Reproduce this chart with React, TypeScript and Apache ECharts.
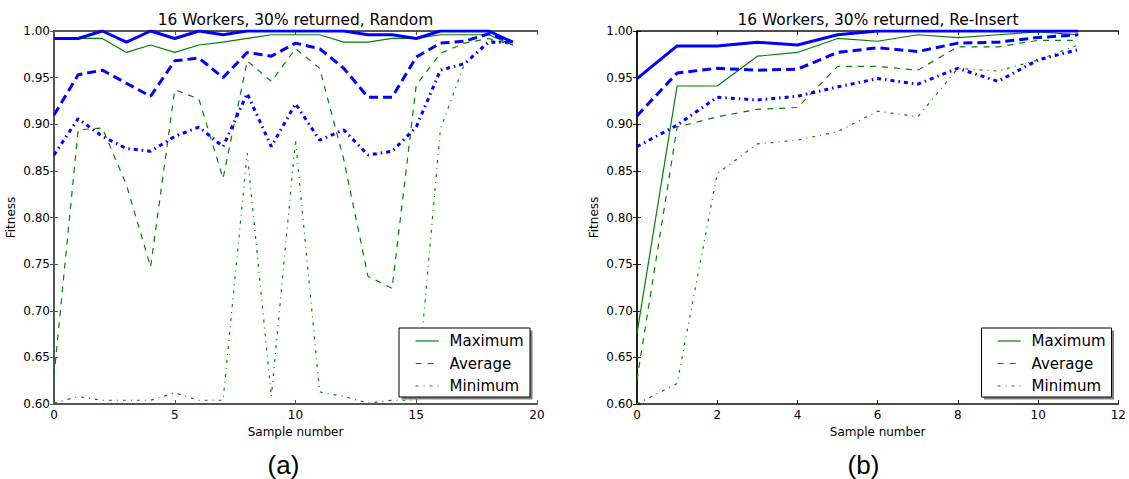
import React, { useEffect, useRef } from "react";
import * as echarts from "echarts";

// ---------- data ----------
const samplesA = [0, 1, 2, 3, 4, 5, 6, 7, 8, 9, 10, 11, 12, 13, 14, 15, 16, 17, 18, 19];
const samplesB = [0, 1, 2, 3, 4, 5, 6, 7, 8, 9, 10, 11];

// (a) Random
const blueMaxA = [0.992, 0.992, 1.0, 0.988, 1.0, 0.992, 1.0, 0.996, 1.0, 1.0, 1.0, 1.0, 1.0, 0.996, 0.996, 0.992, 1.0, 1.0, 1.0, 0.988];
const blueAvgA = [0.91, 0.953, 0.958, 0.944, 0.93, 0.968, 0.971, 0.95, 0.977, 0.973, 0.987, 0.981, 0.96, 0.929, 0.929, 0.972, 0.987, 0.989, 0.997, 0.988];
const blueMinA = [0.867, 0.906, 0.887, 0.874, 0.871, 0.887, 0.897, 0.876, 0.933, 0.876, 0.922, 0.883, 0.894, 0.867, 0.871, 0.897, 0.958, 0.965, 0.988, 0.988];
const greenMaxA = [0.992, 0.992, 0.992, 0.977, 0.985, 0.977, 0.985, 0.988, 0.992, 0.996, 0.996, 0.996, 0.988, 0.988, 0.992, 0.992, 0.996, 0.996, 0.996, 0.985];
const greenAvgA = [0.63, 0.894, 0.896, 0.835, 0.747, 0.937, 0.927, 0.842, 0.968, 0.946, 0.981, 0.96, 0.862, 0.737, 0.724, 0.942, 0.976, 0.987, 0.992, 0.985];
const greenMinA = [0.601, 0.608, 0.604, 0.604, 0.604, 0.612, 0.604, 0.604, 0.869, 0.608, 0.883, 0.613, 0.608, 0.601, 0.604, 0.604, 0.895, 0.965, 0.99, 0.985];

// (b) Re-Insert
const blueMaxB = [0.949, 0.984, 0.984, 0.988, 0.985, 0.996, 1.0, 1.0, 1.0, 1.0, 1.0, 1.0];
const blueAvgB = [0.909, 0.955, 0.96, 0.958, 0.959, 0.977, 0.982, 0.978, 0.987, 0.988, 0.993, 0.996];
const blueMinB = [0.876, 0.899, 0.929, 0.926, 0.93, 0.94, 0.949, 0.943, 0.96, 0.946, 0.969, 0.98];
const greenMaxB = [0.676, 0.941, 0.941, 0.973, 0.977, 0.992, 0.989, 0.996, 0.993, 0.996, 0.999, 0.996];
const greenAvgB = [0.626, 0.897, 0.908, 0.916, 0.918, 0.962, 0.962, 0.958, 0.983, 0.983, 0.99, 0.99];
const greenMinB = [0.6, 0.622, 0.847, 0.879, 0.883, 0.892, 0.914, 0.908, 0.96, 0.957, 0.969, 0.985];

const yTicks = { min: 0.6, max: 1.0, interval: 0.05 };
const xTicksA = { min: 0, max: 20, interval: 5 };
const xTicksB = { min: 0, max: 12, interval: 2 };

const titleA = "16 Workers, 30% returned, Random";
const titleB = "16 Workers, 30% returned, Re-Insert";
const legendNames = ["Maximum", "Average", "Minimum"];

// ---------- styles ----------
const BLUE = "#0000ff";
const GREEN = "#008000";
const FONT = "DejaVu Sans";

const gridA = { left: 54, top: 31, width: 483, height: 373 };
const gridB = { left: 637, top: 31, width: 482, height: 373 };

function pairs(xs: number[], ys: number[]) {
  return ys.map((v, i) => [xs[i], v]);
}

function mkSeries(name: string, xs: number[], ys: number[], idx: number, color: string, width: number, type: any) {
  return {
    name,
    type: "line",
    xAxisIndex: idx,
    yAxisIndex: idx,
    data: pairs(xs, ys),
    symbol: "none",
    lineStyle: { color, width, type, cap: "butt" },
    itemStyle: { color },
    z: color === BLUE ? 3 : 2,
  };
}

function axisSet(gridIndex: number, x: any, axisColor: string, axisW: number) {
  const line = { show: true, lineStyle: { color: axisColor, width: axisW } };
  const tick = { show: true, inside: true, length: 4, lineStyle: { color: axisColor, width: 1 } };
  const xAxes = [
    {
      type: "value", gridIndex, position: "bottom", ...x,
      axisLine: line, axisTick: tick, splitLine: { show: false },
      axisLabel: { color: "#000", fontFamily: FONT, fontSize: 12, margin: 5 },
      name: "Sample number", nameLocation: "middle", nameGap: 20,
      nameTextStyle: { color: "#000", fontFamily: FONT, fontSize: 12 },
    },
    {
      type: "value", gridIndex, position: "top", ...x,
      axisLine: line, axisTick: tick, splitLine: { show: false },
      axisLabel: { show: false },
    },
  ];
  const yAxes = [
    {
      type: "value", gridIndex, position: "left", ...yTicks,
      axisLine: line, axisTick: tick, splitLine: { show: false },
      axisLabel: { color: "#000", fontFamily: FONT, fontSize: 12, margin: 4, formatter: (v: number) => v.toFixed(2) },
      name: "Fitness", nameLocation: "middle", nameGap: 37, nameRotate: 90,
      nameTextStyle: { color: "#000", fontFamily: FONT, fontSize: 12 },
    },
    {
      type: "value", gridIndex, position: "right", ...yTicks,
      axisLine: line, axisTick: tick, splitLine: { show: false },
      axisLabel: { show: false },
    },
  ];
  return { xAxes, yAxes };
}

function legendBox(x: number, y: number, w: number, h: number) {
  return [
    { type: "rect", z: 10, shape: { x: x + 2.5, y: y + 2.5, width: w, height: h }, style: { fill: "#808080" } },
    { type: "rect", z: 11, shape: { x, y, width: w, height: h }, style: { fill: "#fff", stroke: "#000", lineWidth: 1 } },
  ];
}

function legendCfg(left: number) {
  return {
    data: legendNames,
    orient: "vertical",
    left,
    top: 328.5,
    itemWidth: 23,
    itemHeight: 14,
    itemGap: 7.5,
    z: 20,
    selectedMode: false,
    itemStyle: { opacity: 0, borderWidth: 0 },
    lineStyle: { width: 1.2 },
    textStyle: { fontFamily: FONT, fontSize: 15, color: "#000", padding: [0, 0, 0, 6] },
  };
}

export default function App() {
  const ref = useRef<HTMLDivElement>(null);
  useEffect(() => {
    if (!ref.current) return;
    const chart = echarts.init(ref.current, undefined, { renderer: "svg" });
    const a = axisSet(0, xTicksA, "#555", 2);
    const b = axisSet(1, xTicksB, "#111", 1.5);
    const dashed = [9, 5];
    const dashDotThick = [4, 4, 1.5, 4];
    const dashedThin = [6, 6];
    const dashDotThin = [3, 5, 1, 5];
    const option: any = {
      animation: false,
      backgroundColor: "#fff",
      grid: [
        { ...gridA, containLabel: false },
        { ...gridB, containLabel: false },
      ],
      xAxis: [
        a.xAxes[0], a.xAxes[1],
        { ...b.xAxes[0], gridIndex: 1 }, { ...b.xAxes[1], gridIndex: 1 },
      ],
      yAxis: [
        a.yAxes[0], a.yAxes[1],
        { ...b.yAxes[0], gridIndex: 1 }, { ...b.yAxes[1], gridIndex: 1 },
      ],
      legend: [legendCfg(410), legendCfg(992)],
      series: [
        mkSeries("Maximum", samplesA, greenMaxA, 0, GREEN, 1.2, "solid"),
        mkSeries("Average", samplesA, greenAvgA, 0, GREEN, 1.2, dashedThin),
        mkSeries("Minimum", samplesA, greenMinA, 0, GREEN, 1.2, dashDotThin),
        mkSeries("Maximum (blue)", samplesA, blueMaxA, 0, BLUE, 3, "solid"),
        mkSeries("Average (blue)", samplesA, blueAvgA, 0, BLUE, 3, dashed),
        mkSeries("Minimum (blue)", samplesA, blueMinA, 0, BLUE, 3, dashDotThick),
        mkSeries("Maximum", samplesB, greenMaxB, 2, GREEN, 1.2, "solid"),
        mkSeries("Average", samplesB, greenAvgB, 2, GREEN, 1.2, dashedThin),
        mkSeries("Minimum", samplesB, greenMinB, 2, GREEN, 1.2, dashDotThin),
        mkSeries("Maximum (blue)", samplesB, blueMaxB, 2, BLUE, 3, "solid"),
        mkSeries("Average (blue)", samplesB, blueAvgB, 2, BLUE, 3, dashed),
        mkSeries("Minimum (blue)", samplesB, blueMinB, 2, BLUE, 3, dashDotThick),
      ],
      graphic: [
        { type: "text", x: gridA.left + gridA.width / 2, y: 20, style: { text: titleA, fontFamily: FONT, fontSize: 15.4, fill: "#000", textAlign: "center", textVerticalAlign: "middle" } },
        { type: "text", x: gridB.left + gridB.width / 2, y: 20, style: { text: titleB, fontFamily: FONT, fontSize: 15.4, fill: "#000", textAlign: "center", textVerticalAlign: "middle" } },
        { type: "text", x: 283.5, y: 465, style: { text: "(a)", fontFamily: "Liberation Sans", fontSize: 26, fill: "#000", textAlign: "center", textVerticalAlign: "middle" } },
        { type: "text", x: 863.5, y: 465, style: { text: "(b)", fontFamily: "Liberation Sans", fontSize: 26, fill: "#000", textAlign: "center", textVerticalAlign: "middle" } },
        ...legendBox(399, 328, 131, 69),
        ...legendBox(981.5, 328, 130, 69),
      ],
    };
    chart.setOption(option);
    return () => chart.dispose();
  }, []);
  return <div ref={ref} style={{ position: "fixed", left: 0, top: 0, width: 1129, height: 479 }} />;
}
